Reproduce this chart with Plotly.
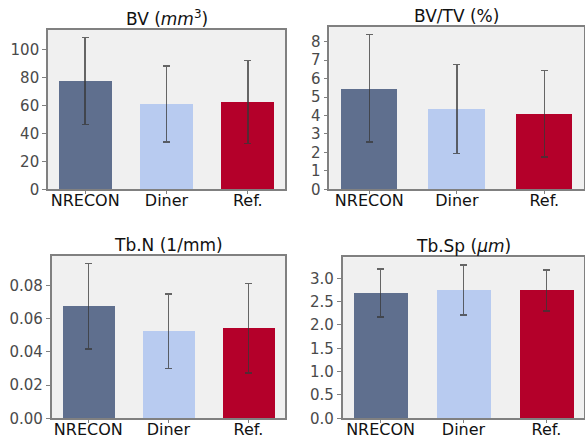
import plotly.graph_objects as go

categories = ["NRECON", "Diner", "Ref."]
colors = ["#5f6f8e", "#b8cbf0", "#b4002a"]

bv_mean = [77.4, 60.9, 62.4]
bv_err = [31.0, 27.2, 29.6]

bvtv_mean = [5.47, 4.35, 4.10]
bvtv_err = [2.92, 2.40, 2.35]

tbn_mean = [0.0675, 0.0525, 0.0543]
tbn_err = [0.0257, 0.0225, 0.0270]

tbsp_mean = [2.685, 2.75, 2.735]
tbsp_err = [0.51, 0.535, 0.44]

titles = ["BV (<i>mm</i><sup>3</sup>)", "BV/TV (%)", "Tb.N (1/mm)", "Tb.Sp (<i>μm</i>)"]
means = [bv_mean, bvtv_mean, tbn_mean, tbsp_mean]
errs = [bv_err, bvtv_err, tbn_err, tbsp_err]
ytick_vals = [
    [0, 20, 40, 60, 80, 100],
    [0, 1, 2, 3, 4, 5, 6, 7, 8],
    [0, 0.02, 0.04, 0.06, 0.08],
    [0, 0.5, 1.0, 1.5, 2.0, 2.5, 3.0],
]
ytick_fmt = ["d", "d", ".2f", ".1f"]

W, H = 585, 439
# plot areas in pixels: (left, right, top, bottom)
boxes = [
    (48, 285, 30, 189.3),
    (329.3, 584.3, 26.7, 189.3),
    (51.7, 285, 256, 418.3),
    (342.7, 584.3, 257.3, 418.3),
]

fig = go.Figure()
annotations = []
for i in range(4):
    ax = "" if i == 0 else str(i + 1)
    fig.add_trace(go.Bar(
        x=categories, y=means[i],
        width=0.65,
        marker=dict(color=colors, line=dict(width=0)),
        error_y=dict(type="data", array=errs[i], visible=True,
                     color="rgba(55,55,55,0.75)", thickness=1.5, width=3.5),
        xaxis="x" + ax, yaxis="y" + ax, showlegend=False,
    ))
    l, r, t, b = boxes[i]
    ymax = max(m + e for m, e in zip(means[i], errs[i])) * 1.05
    fig.layout["xaxis" + ax] = dict(
        domain=[l / W, r / W], anchor="y" + ax, automargin=False,
        range=[-0.4575, 2.4575], type="category",
        showline=True, mirror=True, linecolor="#808080", linewidth=1.6,
        ticks="outside", ticklen=3, tickcolor="#808080", tickwidth=1,
        ticklabelstandoff=-7,
        tickfont=dict(family="DejaVu Sans", size=16, color="#111111"),
        showgrid=False, zeroline=False, fixedrange=True,
    )
    fig.layout["yaxis" + ax] = dict(
        domain=[1 - b / H, 1 - t / H], anchor="x" + ax, automargin=False,
        range=[0, ymax], tickvals=ytick_vals[i], tickformat=ytick_fmt[i],
        showline=True, mirror=True, linecolor="#808080", linewidth=1.6,
        ticks="outside", ticklen=4, tickcolor="#808080", tickwidth=1,
        tickfont=dict(family="DejaVu Sans", size=15, color="#4a4a4a"),
        showgrid=False, zeroline=False, fixedrange=True,
    )
    annotations.append(dict(
        text=titles[i], x=(l + r) / 2 / W, y=1 - t / H,
        xref="paper", yref="paper", xanchor="center", yanchor="bottom",
        yshift=-1, showarrow=False,
        font=dict(family="DejaVu Sans", size=17, color="#111111"),
    ))

fig.update_layout(
    template="none",
    width=W, height=H,
    margin=dict(l=0, r=0, t=0, b=0, autoexpand=False),
    paper_bgcolor="white", plot_bgcolor="#f0f0f0",
    bargap=0, annotations=annotations,
)
fig.write_html(
    "out.html",
    config={"displayModeBar": False},
    post_script="document.body.style.margin='0';document.body.style.overflow='hidden';",
)
